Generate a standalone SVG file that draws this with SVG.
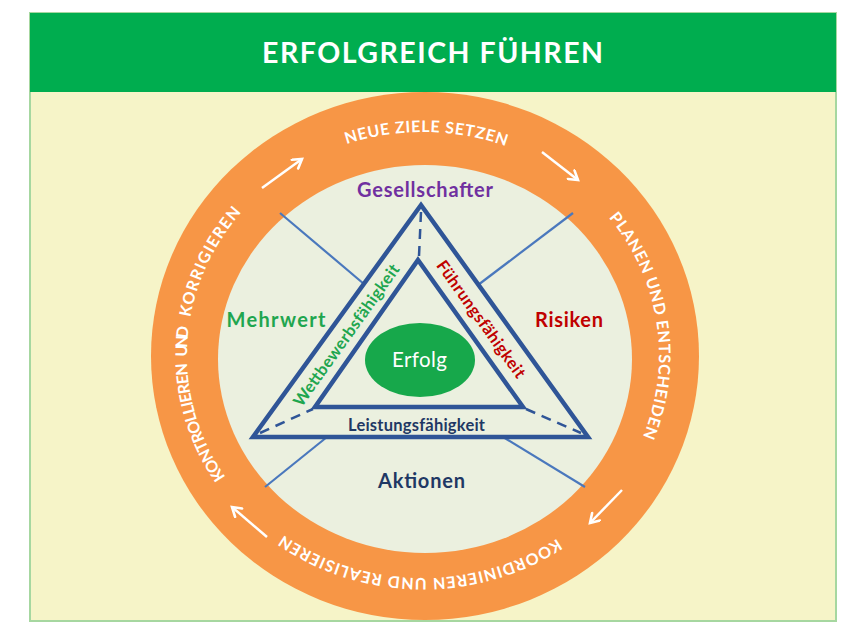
<svg xmlns="http://www.w3.org/2000/svg" xmlns:xlink="http://www.w3.org/1999/xlink" width="855" height="632" viewBox="0 0 855 632">
  <style>
    .ring { font-family: Lato, "Open Sans", sans-serif; font-weight: 700; font-size: 16px; fill: #ffffff; }
    .lbl { font-family: Lato, "Open Sans", sans-serif; font-weight: 700; text-anchor: middle; }
    .side { font-family: Lato, "Open Sans", sans-serif; font-weight: 700; font-size: 16.5px; text-anchor: middle; }
    .tri { fill: #ebf0df; stroke: #2f5597; stroke-width: 4.5; stroke-linejoin: miter; }
    .ray { stroke: #4a78bd; stroke-width: 2.2; fill: none; }
    .dash { stroke: #2f5597; stroke-width: 2.5; stroke-dasharray: 10 7; fill: none; }
    .arrow { stroke: #ffffff; stroke-width: 2.5; fill: none; marker-end: url(#ah); }
  </style>
  <defs>
    <marker id="ah" viewBox="0 0 12 12" refX="10" refY="6" markerWidth="13" markerHeight="13" markerUnits="userSpaceOnUse" orient="auto">
      <path d="M2,1 L10,6 L2,11" fill="none" stroke="#ffffff" stroke-width="2.4" stroke-linecap="round"/>
    </marker>
    <path id="ringPath" d="M256.1,512.7 A236,223 0 0 1 589.9,197.3 A236,223 0 0 1 256.1,512.7"/>
  </defs>

  <g id="frame">
    <rect x="30" y="13" width="806" height="608" fill="#f6f4c8" stroke="#a6d7a0" stroke-width="2"/>
  </g>

  <g id="ring">
    <ellipse cx="425" cy="356" rx="274" ry="264" fill="#f79646"/>
  </g>

  <g id="header">
    <rect x="30" y="13" width="806" height="79" fill="#00ad4f"/>
    <text x="432.5" y="63" class="lbl" font-size="28.5" fill="#ffffff" textLength="341">ERFOLGREICH FÜHREN</text>
  </g>

  <g id="inner-circle">
    <ellipse cx="425" cy="359" rx="207" ry="194" fill="#ebf0df"/>
  </g>

  <g id="ring-labels">
    <text class="ring"><textPath xlink:href="#ringPath" href="#ringPath" startOffset="7.5%" text-anchor="middle" textLength="122">KONTROLLIEREN</textPath></text>
    <text class="ring"><textPath xlink:href="#ringPath" href="#ringPath" startOffset="13.2%" text-anchor="middle" textLength="30">UND</textPath></text>
    <text class="ring"><textPath xlink:href="#ringPath" href="#ringPath" startOffset="19.0%" text-anchor="middle" textLength="118">KORRIGIEREN</textPath></text>
    <text class="ring"><textPath xlink:href="#ringPath" href="#ringPath" startOffset="37.5%" text-anchor="middle" textLength="162">NEUE  ZIELE SETZEN</textPath></text>
    <text class="ring"><textPath xlink:href="#ringPath" href="#ringPath" startOffset="60%" text-anchor="middle" textLength="233">PLANEN UND ENTSCHEIDEN</textPath></text>
    <text class="ring"><textPath xlink:href="#ringPath" href="#ringPath" startOffset="87.5%" text-anchor="middle" textLength="290">KOORDINIEREN UND REALISIEREN</textPath></text>
  </g>

  <g id="connectors">
    <line class="ray" x1="280" y1="213" x2="364" y2="284"/>
    <line class="ray" x1="573" y1="213" x2="478" y2="285"/>
    <line class="ray" x1="327" y1="437" x2="265" y2="487"/>
    <line class="ray" x1="503" y1="437" x2="585" y2="487"/>
    <line class="arrow" x1="262" y1="188" x2="302" y2="159"/>
    <line class="arrow" x1="542" y1="152" x2="578" y2="180"/>
    <line class="arrow" x1="622" y1="490" x2="590" y2="523"/>
    <line class="arrow" x1="267" y1="537" x2="232" y2="507"/>
  </g>

  <g id="triangle-outer">
    <polygon class="tri" points="421,205 588,437 253,437"/>
  </g>
  <g id="triangle-inner">
    <polygon class="tri" points="418,260 523,407 315,407"/>
  </g>
  <g id="dashes">
    <line class="dash" x1="421" y1="212" x2="419" y2="256"/>
    <line class="dash" x1="260" y1="433" x2="313" y2="409"/>
    <line class="dash" x1="526" y1="409" x2="581" y2="433"/>
  </g>

  <g id="erfolg">
    <ellipse cx="420" cy="360" rx="55" ry="37" fill="#17a84b"/>
    <text x="419.5" y="367" font-family="Lato, 'Open Sans', sans-serif" font-size="20.5" fill="#ffffff" text-anchor="middle" textLength="55">Erfolg</text>
  </g>

  <g id="gesellschafter">
    <text x="425" y="197" class="lbl" font-size="20" fill="#7030a0" textLength="136">Gesellschafter</text>
  </g>
  <g id="mehrwert">
    <text x="276" y="327" class="lbl" font-size="20" fill="#1fa64f" textLength="99">Mehrwert</text>
  </g>
  <g id="risiken">
    <text x="569" y="327" class="lbl" font-size="20" fill="#c00000" textLength="68">Risiken</text>
  </g>
  <g id="aktionen">
    <text x="421.5" y="488" class="lbl" font-size="20" fill="#1f3864" textLength="87">Aktionen</text>
  </g>
  <g id="leistungsfaehigkeit">
    <text x="416.5" y="431" class="side" fill="#1f3864" textLength="137">Leistungsfähigkeit</text>
  </g>
  <g id="wettbewerbsfaehigkeit">
    <text class="side" font-size="17" fill="#1fa64f" textLength="170" transform="translate(351,338.5) rotate(-54.5)">Wettbewerbsfähigkeit</text>
  </g>
  <g id="fuehrungsfaehigkeit">
    <text class="side" font-size="17" fill="#c00000" textLength="140" transform="translate(476.5,322.5) rotate(54.4)">Führungsfähigkeit</text>
  </g>
</svg>
